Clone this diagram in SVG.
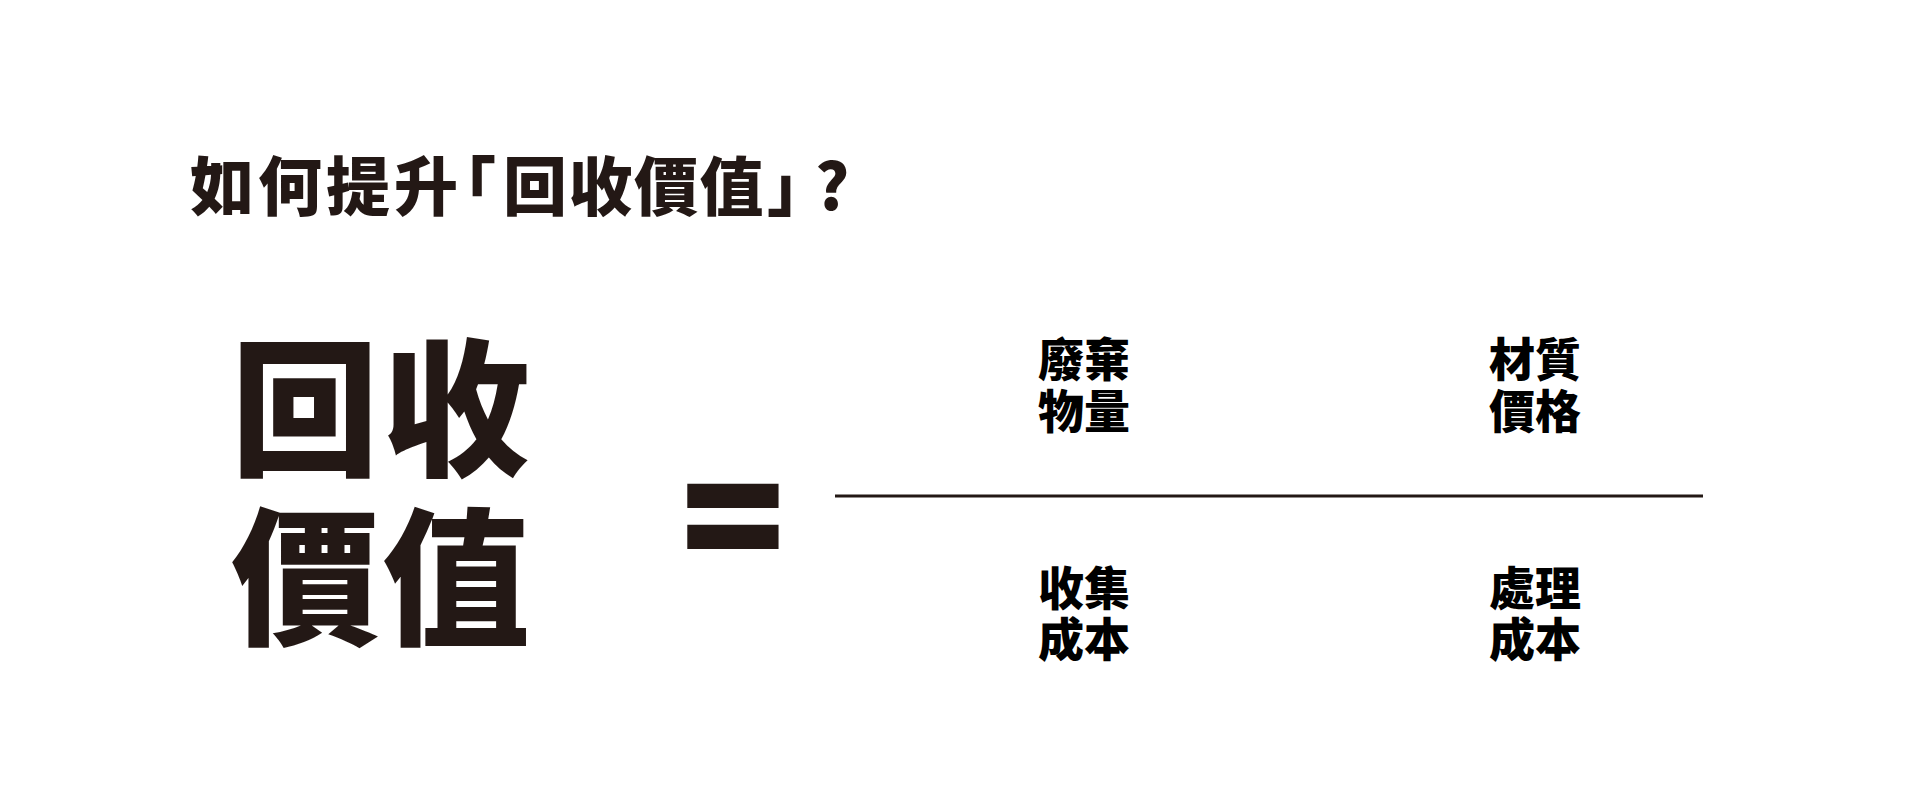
<svg xmlns="http://www.w3.org/2000/svg" width="1923" height="810" viewBox="0 0 1923 810">
<style>
.cjk{font-family:"Noto Sans CJK TC","Noto Sans CJK SC",sans-serif;font-weight:900}
.dark{fill:#231815}
.lbl{font-size:46px;fill:#000}
</style>
<rect width="1923" height="810" fill="#fff"/>
<g id="title"><text class="cjk dark" y="210" font-size="64"><tspan x="190" letter-spacing="4">如何提升</tspan><tspan x="432">「</tspan><tspan x="503" letter-spacing="1.5">回收價值</tspan><tspan x="767">」</tspan><tspan x="815">?</tspan></text></g>
<g id="lhs"><text class="cjk dark" font-size="148" letter-spacing="3"><tspan x="231" y="464">回收</tspan><tspan x="231" y="633">價值</tspan></text></g>
<g id="equals"><text class="dark" x="679" y="581" font-family="'Noto Sans',sans-serif" font-weight="900" font-size="184">=</text></g>
<g id="n1"><text class="cjk lbl"><tspan x="1038" y="376">廢棄</tspan><tspan x="1038" y="428">物量</tspan></text></g>
<g id="n2"><text class="cjk lbl"><tspan x="1489" y="376">材質</tspan><tspan x="1489" y="428">價格</tspan></text></g>
<g id="d1"><text class="cjk lbl"><tspan x="1038" y="605">收集</tspan><tspan x="1038" y="656">成本</tspan></text></g>
<g id="d2"><text class="cjk lbl"><tspan x="1489" y="605">處理</tspan><tspan x="1489" y="656">成本</tspan></text></g>
<g id="connectors"><line x1="835" y1="496" x2="1703" y2="496" stroke="#231815" stroke-width="3"/></g>
</svg>
